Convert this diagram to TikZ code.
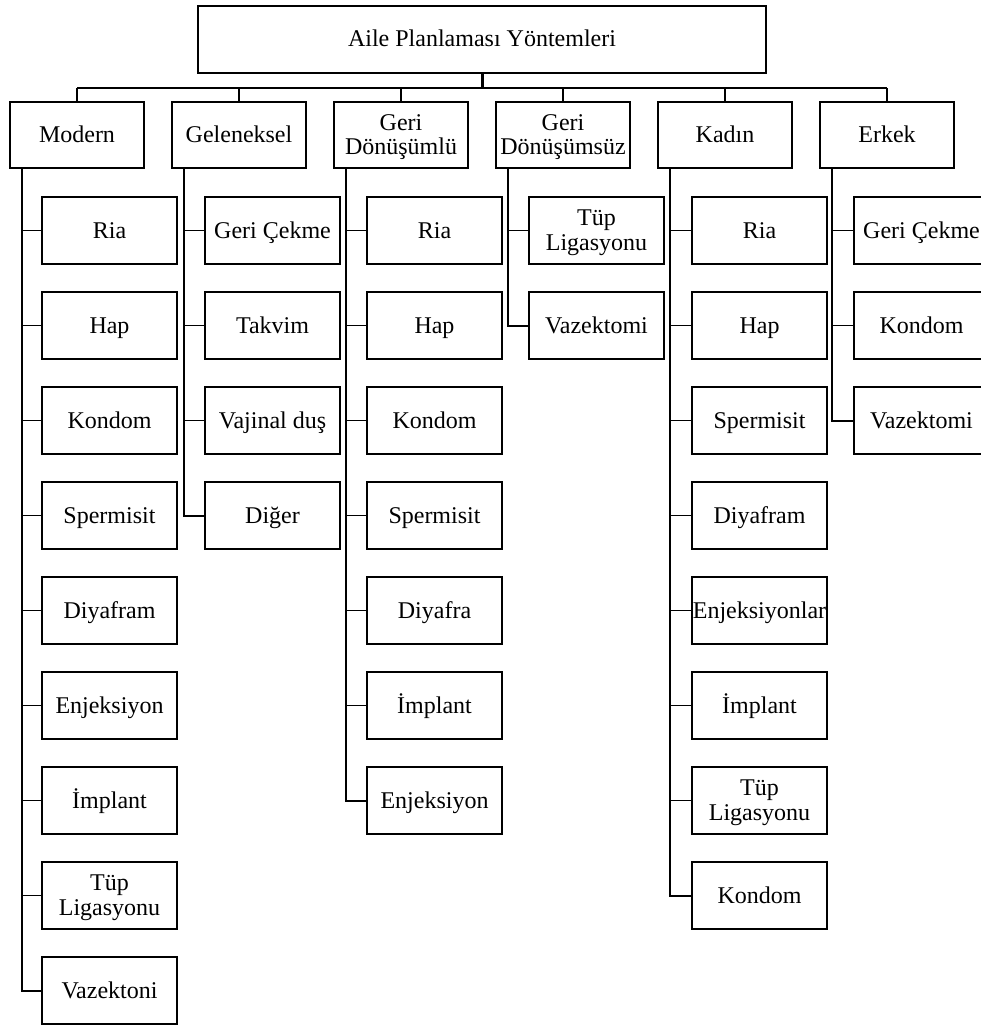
\documentclass[tikz,border=0pt]{standalone}
\usepackage{fontspec}
\setmainfont{Liberation Serif}
\usetikzlibrary{calc}
\newcommand\twol[2]{\raisebox{12.5pt}[18pt][3pt]{\renewcommand\arraystretch{0.92}\begin{tabular}[t]{@{}c@{}}#1\\#2\end{tabular}}}
\newcommand\mycol[4]{%
  \coordinate (#1t) at ($(#2.south west)+(13,0)$);
  \foreach[count=\k from 0] \t in {#4} {%
    \node[box, child] (#1\k) at (#3,{230.5+95*\k}) {\t};
    \draw[tick] (#1t |- #1\k.west) -- (#1\k.west);
    \xdef\lastk{\k}}
  \draw[trunk] (#1t) |- (#1\lastk.west);
}
\begin{document}
\begin{tikzpicture}[x=1pt,y=-1pt,
  font=\fontsize{24}{27}\selectfont,
  box/.style={draw, line width=2pt, minimum width=134pt, minimum height=66pt, inner sep=0pt, align=center, fill=white, text height=18pt, text depth=3pt},
  child/.style={minimum width=135pt, minimum height=67pt},
  tick/.style={line width=1.3pt},
  trunk/.style={line width=2pt, line cap=rect},
  bus/.style={line width=2pt}]
\useasboundingbox (0,0) rectangle (980,1025);

\node[box, minimum width=568pt, minimum height=67pt] (root) at (482,39.5) {Aile Planlaması Yöntemleri};

\node[box] (m)  at (77,135)  {Modern};
\node[box] (g)  at (239,135) {Geleneksel};
\node[box] (gd) at (401,135) {\twol{Geri}{Dönüşümlü}};
\node[box] (gs) at (563,135) {\twol{Geri}{Dönüşümsüz}};
\node[box] (k)  at (725,135) {Kadın};
\node[box] (e)  at (887,135) {Erkek};

\coordinate (busc) at (482.5,88);
\draw[line width=3pt] (root.south -| busc) -- (busc);
\draw[bus] (m.north |- busc) -- (e.north |- busc);
\foreach \n in {m,g,gd,gs,k,e} \draw[bus] (\n.north) -- (\n.north |- busc);

\mycol{m}{m}{109.5}{Ria,Hap,Kondom,Spermisit,Diyafram,Enjeksiyon,İmplant,{\twol{Tüp}{Ligasyonu}},Vazektoni}
\mycol{g}{g}{272.5}{Geri Çekme,Takvim,Vajinal duş,Diğer}
\mycol{gd}{gd}{434.5}{Ria,Hap,Kondom,Spermisit,Diyafra,İmplant,Enjeksiyon}
\mycol{gs}{gs}{596.5}{{\twol{Tüp}{Ligasyonu}},Vazektomi}
\mycol{k}{k}{759.5}{Ria,Hap,Spermisit,Diyafram,Enjeksiyonlar,İmplant,{\twol{Tüp}{Ligasyonu}},Kondom}
\mycol{e}{e}{921.5}{Geri Çekme,Kondom,Vazektomi}
\end{tikzpicture}
\end{document}
